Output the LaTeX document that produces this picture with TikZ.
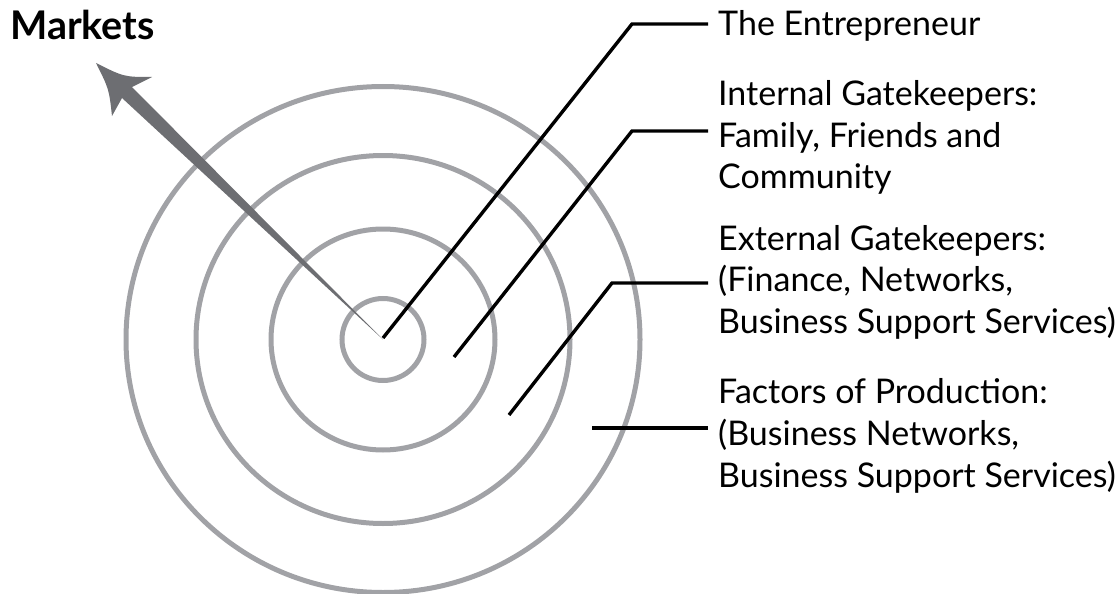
\documentclass[tikz,border=0pt]{standalone}
\usepackage{fontspec}
\setmainfont{Lato}
\definecolor{ringgray}{RGB}{161,162,166}
\definecolor{arrowgray}{RGB}{109,110,114}
\begin{document}
\begin{tikzpicture}[x=1pt,y=-1pt,
  ring/.style={draw=ringgray, line width=5pt},
  leader/.style={draw=black, line width=3.4pt, line join=miter},
  lbl/.style={anchor=base west, inner sep=0pt, font=\fontsize{34}{41}\selectfont},
  title/.style={anchor=base west, inner sep=0pt, font=\fontsize{39.5}{44}\selectfont\bfseries},
]
\useasboundingbox (0,0) rectangle (1120,594);

% rings
\coordinate (C) at (383,339.5);
\draw[ring] (C) ellipse [x radius=257, y radius=253];
\draw[ring] (C) ellipse [x radius=187, y radius=184];
\draw[ring] (C) ellipse [x radius=112, y radius=110.5];
\draw[ring] (C) ellipse [x radius=41, y radius=41];

% markets arrow
\coordinate (tip) at (96,63);
\coordinate (rb) at (152,77);
\coordinate (rn) at (132,87);
\coordinate (ln) at (122,98);
\coordinate (lb) at (112,116);
\fill[arrowgray] (tip) .. controls (124,77) .. (rb) -- (rn) -- (C) -- (ln) -- (lb) .. controls (109,89) .. (tip) -- cycle;
\node[title] (markets) at (10,40) {Markets};

% labels
\node[lbl] (t1) at (718,36) {The Entrepreneur};
\node[lbl] (t2a) at (718,106) {Internal Gatekeepers:};
\node[lbl] (t2b) at (718,147) {Family, Friends and};
\node[lbl] (t2c) at (718,188) {Community};
\node[lbl] (t3a) at (718,250) {External Gatekeepers:};
\node[lbl] (t3b) at (718,291) {(Finance, Networks,};
\node[lbl] (t3c) at (718,333) {Business Support Services)};
\node[lbl] (t4a) at (718,403) {Factors of Production:};
\node[lbl] (t4b) at (718,445) {(Business Networks,};
\node[lbl] (t4c) at (718,487) {Business Support Services)};

% leader lines
\coordinate (s1) at (383,338);
\coordinate (b1) at (632,24);
\coordinate (e1) at (708,24);
\coordinate (s2) at (454,357);
\coordinate (b2) at (632,131);
\coordinate (e2) at (708,131);
\coordinate (s3) at (509,415);
\coordinate (b3) at (612,283);
\coordinate (e3) at (708,283);
\coordinate (s4) at (592,428);
\coordinate (e4) at (708,428);
\draw[leader] (s1) -- (b1) -- (e1);
\draw[leader] (s2) -- (b2) -- (e2);
\draw[leader] (s3) -- (b3) -- (e3);
\draw[leader] (s4) -- (e4);
\end{tikzpicture}
\end{document}
